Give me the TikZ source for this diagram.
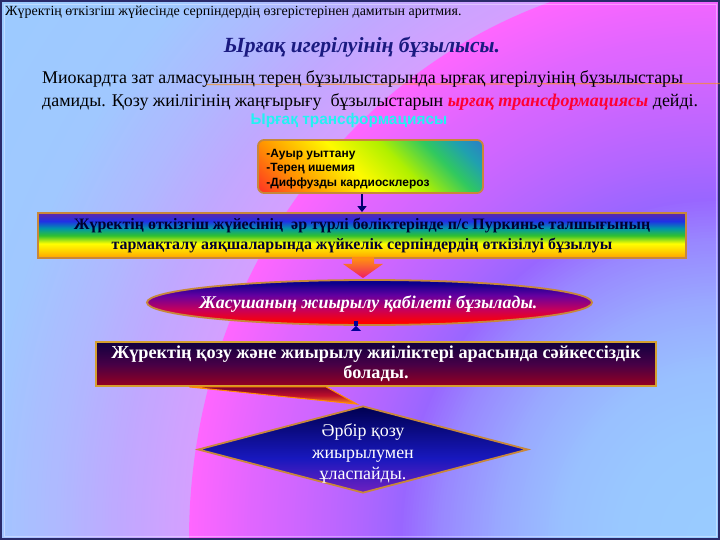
\documentclass[tikz,border=0pt]{standalone}
\usepackage{fontspec}
\setmainfont{Liberation Serif}
\setsansfont{Liberation Sans}
\usetikzlibrary{shapes.geometric,calc,arrows.meta}

\definecolor{cA}{HTML}{99CCFF}
\definecolor{cB}{HTML}{99C8FF}
\definecolor{cC}{HTML}{99C0FF}
\definecolor{cD}{HTML}{99AAFF}
\definecolor{cE}{HTML}{9988FF}
\definecolor{cF}{HTML}{9966FF}
\definecolor{cG}{HTML}{B066FF}
\definecolor{cH}{HTML}{CC66FF}
\definecolor{cI}{HTML}{E066FF}
\definecolor{cJ}{HTML}{FF66FF}
\definecolor{cK}{HTML}{D4A0FF}
\definecolor{cL}{HTML}{C0A8FF}
\definecolor{cM}{HTML}{B0B8FF}
\definecolor{cN}{HTML}{A0C8FF}
\definecolor{cO}{HTML}{9CCBFF}
\definecolor{bord}{HTML}{C8873A}
\definecolor{titleblue}{HTML}{1A1A80}
\definecolor{redtxt}{HTML}{FF0033}
\definecolor{cyantxt}{HTML}{22F2F2}
\definecolor{navytxt}{HTML}{000030}
\definecolor{framec}{HTML}{2A2A6A}

\pgfdeclarehorizontalshading{boxonesh}{100bp}{color(0bp)=(rgb,255:red,255;green,32;blue,32); color(28bp)=(rgb,255:red,255;green,40;blue,40); color(37bp)=(rgb,255:red,255;green,150;blue,0); color(47bp)=(rgb,255:red,255;green,250;blue,0); color(55bp)=(rgb,255:red,176;green,240;blue,0); color(62bp)=(rgb,255:red,48;green,200;blue,96); color(67bp)=(rgb,255:red,32;green,160;blue,176); color(73bp)=(rgb,255:red,48;green,112;blue,208); color(100bp)=(rgb,255:red,48;green,112;blue,208)}

\pgfdeclareverticalshading{boxtwosh}{100bp}{color(0bp)=(rgb,255:red,255;green,160;blue,0); color(25bp)=(rgb,255:red,255;green,160;blue,0); color(33bp)=(rgb,255:red,255;green,210;blue,0); color(41bp)=(rgb,255:red,255;green,255;blue,0); color(50bp)=(rgb,255:red,48;green,192;blue,48); color(58bp)=(rgb,255:red,0;green,150;blue,170); color(66bp)=(rgb,255:red,32;green,48;blue,230); color(75bp)=(rgb,255:red,96;green,40;blue,170); color(100bp)=(rgb,255:red,96;green,40;blue,170)}

\pgfdeclareverticalshading{ellsh}{100bp}{color(0bp)=(rgb,255:red,255;green,0;blue,0); color(28bp)=(rgb,255:red,255;green,0;blue,0); color(42bp)=(rgb,255:red,200;green,0;blue,90); color(58bp)=(rgb,255:red,100;green,0;blue,160); color(72bp)=(rgb,255:red,10;green,0;blue,140); color(100bp)=(rgb,255:red,10;green,0;blue,140)}

\pgfdeclareverticalshading{boxthreesh}{100bp}{color(0bp)=(rgb,255:red,150;green,0;blue,32); color(25bp)=(rgb,255:red,150;green,0;blue,32); color(50bp)=(rgb,255:red,70;green,0;blue,70); color(75bp)=(rgb,255:red,16;green,0;blue,64); color(100bp)=(rgb,255:red,16;green,0;blue,64)}

\pgfdeclareverticalshading{diamsh}{100bp}{color(0bp)=(rgb,255:red,112;green,32;blue,192); color(25bp)=(rgb,255:red,112;green,32;blue,192); color(45bp)=(rgb,255:red,24;green,24;blue,190); color(75bp)=(rgb,255:red,0;green,0;blue,80); color(100bp)=(rgb,255:red,0;green,0;blue,80)}

\pgfdeclareverticalshading{arrtwosh}{100bp}{color(0bp)=(rgb,255:red,240;green,40;blue,90); color(30bp)=(rgb,255:red,240;green,40;blue,90); color(70bp)=(rgb,255:red,255;green,140;blue,20); color(100bp)=(rgb,255:red,255;green,140;blue,20)}

\pgfdeclareverticalshading{wedgesh}{100bp}{color(0bp)=(rgb,255:red,255;green,144;blue,32); color(25bp)=(rgb,255:red,255;green,144;blue,32); color(50bp)=(rgb,255:red,192;green,16;blue,42); color(75bp)=(rgb,255:red,122;green,0;blue,48); color(100bp)=(rgb,255:red,122;green,0;blue,48)}

\tikzset{
  boxborder/.style={draw=bord, line width=1.8bp},
  whitetxt/.style={text=white},
}

\begin{document}
\begin{tikzpicture}[x=1bp,y=-1bp]
\useasboundingbox (0,0) rectangle (720,540);
% background: rings round the lower right corner
\begin{scope}
  \clip (0,0) rectangle (720,540);
  \fill[cO] (0,0) rectangle (720,540);
  \foreach \ra/\rb/\ca/\cb/\n in {900/740/cO/cN/20, 740/660/cN/cM/20, 660/600/cM/cL/20, 600/534/cL/cK/22, 534/531/cK/cJ/1, 531/470/cJ/cI/20, 470/420/cI/cH/17, 420/360/cH/cG/20, 360/320/cG/cF/14, 320/280/cF/cE/14, 280/220/cE/cD/20, 220/160/cD/cC/20, 160/100/cC/cB/20, 100/3/cB/cA/25}{
    \foreach \i in {1,...,\n}{
      \pgfmathsetmacro\rr{\ra-(\ra-\rb)*(\i-1)/\n}
      \pgfmathsetmacro\ry{\rr*1.069}
      \pgfmathsetmacro\pp{100*(\i-1)/\n}
      \fill[\cb!\pp!\ca] (720,540) ellipse [x radius=\rr bp, y radius=\ry bp];
    }
  }
\end{scope}
\draw[framec, line width=2bp] (1,1) rectangle (719,539);
\draw[white, opacity=0.35, line width=0.8bp] (4,4) rectangle (716,536);

% faint line behind first paragraph line
\draw[orange!85!yellow, opacity=0.6, line width=1.2bp] (206,84.5) -- (720,83.5);

% texts
\node[anchor=base west, inner sep=0, font=\fontsize{14}{16}\selectfont] (toptxt) at (5,16) {Жүректің өткізгіш жүйесінде серпіндердің өзгерістерінен дамитын аритмия.};
\node[anchor=base, inner sep=0, text=titleblue, font=\fontsize{21.7}{24}\selectfont\bfseries\itshape] (title) at (362,53) {Ырғақ игерілуінің бұзылысы.};
\node[anchor=base west, inner sep=0, font=\fontsize{18}{20}\selectfont] (para1) at (42,84) {Миокардта зат алмасуының терең бұзылыстарында ырғақ игерілуінің бұзылыстары};
\node[anchor=base west, inner sep=0, font=\fontsize{18}{20}\selectfont] (para2) at (42,107) {дамиды. Қозу жиілігінің жаңғырығу\ \ бұзылыстарын \textcolor{redtxt}{\bfseries\itshape ырғақ трансформациясы} дейді.};
\node[anchor=base, inner sep=0, text=cyantxt, font=\fontsize{15.5}{17}\selectfont\sffamily\bfseries] (cyan) at (349,125) {Ырғақ трансформациясы};

% box 1
\node[rectangle, rounded corners=6bp, boxborder, minimum width=225bp, minimum height=53bp, inner sep=0pt,
  path picture={\shade[shading=boxonesh, shading angle=45] ($(path picture bounding box.center)+(-115,-115)$) rectangle ($(path picture bounding box.center)+(115,115)$);}]
  (b1) at (370.5,166.5) {};
\node[anchor=west, inner sep=0pt, align=left, font=\fontsize{12}{14.2}\selectfont\sffamily\bfseries] (b1txt) at ($(b1.west)+(9,2.5)$) {-Ауыр уыттану\\-Терең ишемия\\-Диффузды кардиосклероз};

% box 2
\node[rectangle, boxborder, shade, shading=boxtwosh, minimum width=648bp, minimum height=45bp, inner sep=0pt, align=center, text=navytxt,
  font=\fontsize{16}{19.5}\selectfont\bfseries]
  (b2) at (362,235.5) {Жүректің өткізгіш жүйесінің\ \ әр түрлі бөліктерінде п/с Пуркинье талшығының\\тармақталу аяқшаларында жүйкелік серпіндердің өткізілуі бұзылуы};

% ellipse
\node[ellipse, boxborder, shade, shading=ellsh, minimum width=445bp, minimum height=45bp, inner sep=0pt] (el) at (369.5,302.5) {};
\node[whitetxt, inner sep=0, font=\fontsize{18}{20}\selectfont\bfseries\itshape] (eltxt) at ($(el.center)+(-1,2)$) {Жасушаның жиырылу қабілеті бұзылады.};

% box 3
\node[rectangle, draw=bord!80!yellow, line width=1.8bp, shade, shading=boxthreesh, minimum width=560bp, minimum height=44bp, inner sep=0pt, align=center, whitetxt,
  font=\fontsize{18.3}{20}\selectfont\bfseries]
  (b3) at (376,364) {Жүректің қозу және жиырылу жиіліктері арасында сәйкессіздік\\болады.};

% diamond
\node[diamond, boxborder, shade, shading=diamsh, minimum width=330bp, minimum height=87bp, inner sep=0pt] (d) at (363,449.5) {};
\node[whitetxt, inner sep=0, align=center, font=\fontsize{18}{22}\selectfont] (dtxt) at ($(d.center)+(0,4)$) {Әрбір қозу\\жиырылумен\\ұласпайды.};

% connector 1: box1 -> box2
\draw[draw=navytxt!70!blue, line width=2.5bp, -{Triangle[width=9bp,length=6bp]}] (b1.south -| b2.north) -- (b2.north);

% connector 2: box2 -> ellipse (block arrow)
\coordinate (a2s) at ($(b2.south)+(1,-2)$);
\coordinate (a2t) at ($(b2.south |- el.north)+(1,-1)$);
\shade[shading=arrtwosh] ($(a2s)+(-11,0)$) -- ($(a2s)+(11,0)$) -- ($(a2s)+(11,7)$) -- ($(a2s)+(20,7)$) -- (a2t) -- ($(a2s)+(-20,7)$) -- ($(a2s)+(-11,7)$) -- cycle;

% connector 3: ellipse -> box3
\draw[draw=navytxt!50!blue, line width=4.5bp, -{Triangle[width=10bp,length=5bp]}] ($(el.south)+(-13.5,0)$) -- ($(el.south)+(-13.5,0)$ |- b3.north);

% connector 4: box3 -> diamond (callout wedge)
\coordinate (w1) at ($(b3.south west)+(94,0)$);
\coordinate (w2) at ($(b3.south west)+(231,0)$);
\coordinate (w3) at ($(d.north)+(-6,-1)$);
\shade[shading=wedgesh, draw=orange!90!yellow, line width=1bp] (w1) -- (w2) -- (w3) -- cycle;
\end{tikzpicture}
\end{document}
